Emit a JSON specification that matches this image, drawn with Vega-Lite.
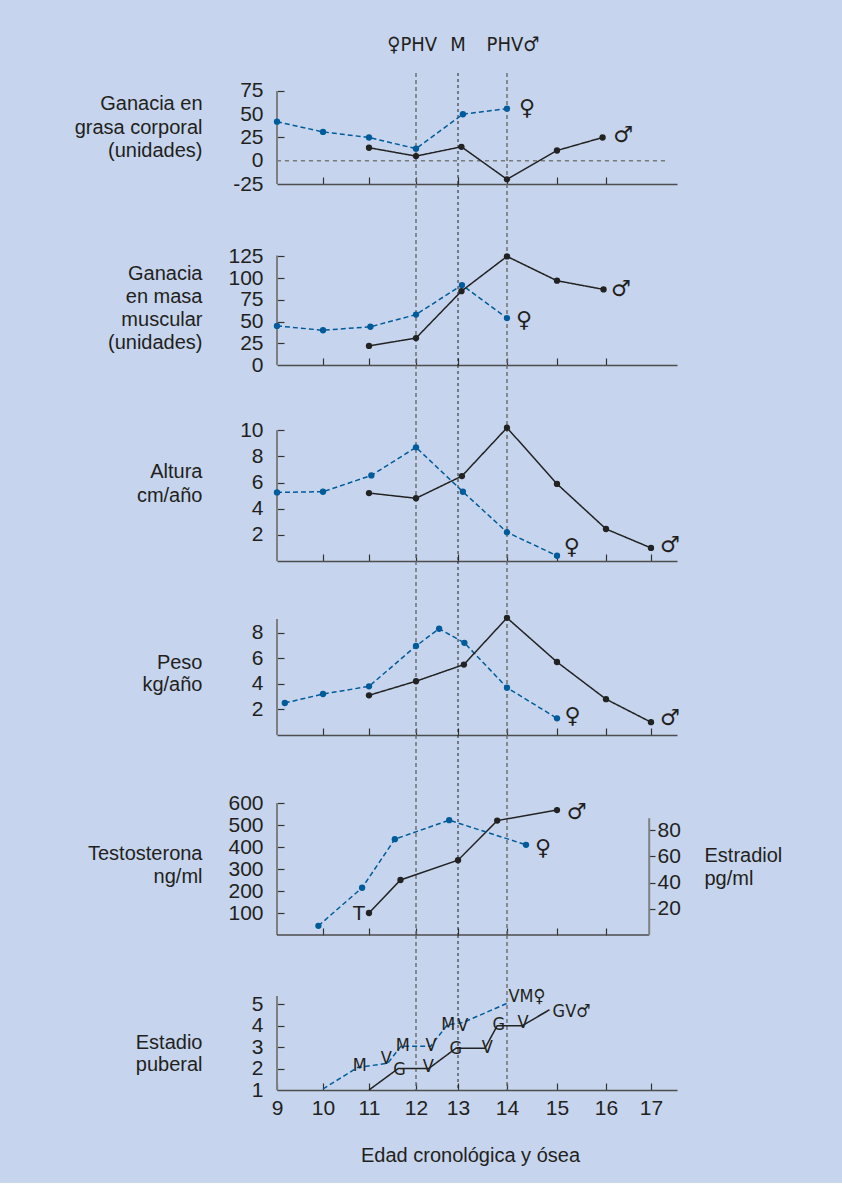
{
  "$schema": "https://vega.github.io/schema/vega-lite/v6.json",
  "background": "#c6d5ed",
  "padding": {"left": 74, "top": 34, "right": 60, "bottom": 18},
  "bounds": "flush",
  "spacing": 0,
  "config": {
    "view": {"stroke": null},
    "font": "Liberation Sans",
    "axis": {
      "labelFont": "Liberation Sans", "labelFontSize": 21, "labelColor": "#231f20",
      "titleFont": "Liberation Sans", "titleFontSize": 20, "titleFontWeight": "normal", "titleColor": "#231f20",
      "labelFlush": false, "labelBound": false, "grid": false, "labelOverlap": false,
      "tickColor": "#333333", "tickWidth": 1.2, "tickCount": 20
    }
  },
  "datasets": {
    "vlin": [{"x": 12}, {"x": 13}, {"x": 14}],
    "yax": [
      {"p": 1, "x": 9, "y": -25, "y2": 75},
      {"p": 2, "x": 9, "y": 0, "y2": 126},
      {"p": 3, "x": 9, "y": 0, "y2": 10},
      {"p": 4, "x": 9, "y": 0, "y2": 9.06},
      {"p": 5, "x": 9, "y": 0, "y2": 600},
      {"p": 6, "x": 9, "y": 1, "y2": 5.39}
    ],
    "estrax": [{"x": 16.96, "y": 0, "y2": 89}],
    "hlin": [{"p": 1, "x": 9, "x2": 17.33, "y": 0}, {"p": 5, "x": 9, "x2": 16.96, "y": 0}],
    "top": [{"x": 11.92, "y": 124.5, "t": "♀PHV"}, {"x": 13, "y": 124.5, "t": "M"}, {"x": 14.12, "y": 124.5, "t": "PHV♂"}],
    "simb": [
      {"p": 1, "x": 14.4, "y": 57, "t": "♀"}, {"p": 1, "x": 16.38, "y": 28, "t": "♂"},
      {"p": 2, "x": 14.34, "y": 52, "t": "♀"}, {"p": 2, "x": 16.33, "y": 87, "t": "♂"},
      {"p": 3, "x": 15.3, "y": 1.1, "t": "♀"}, {"p": 3, "x": 17.4, "y": 1.25, "t": "♂"},
      {"p": 4, "x": 15.32, "y": 1.5, "t": "♀"}, {"p": 4, "x": 17.4, "y": 1.35, "t": "♂"},
      {"p": 5, "x": 15.4, "y": 560, "t": "♂"}, {"p": 5, "x": 14.72, "y": 394, "t": "♀"}
    ],
    "tlab": [{"x": 10.78, "y": 95, "t": "T"}],
    "grasa": [
      {"x": 9, "y": 42, "s": "F"}, {"x": 10, "y": 31, "s": "F"}, {"x": 11, "y": 25, "s": "F"}, {"x": 12, "y": 13, "s": "F"}, {"x": 13.1, "y": 50, "s": "F"}, {"x": 14, "y": 56, "s": "F"},
      {"x": 11, "y": 14, "s": "M"}, {"x": 12, "y": 5, "s": "M"}, {"x": 13.07, "y": 15, "s": "M"}, {"x": 14, "y": -20, "s": "M"}, {"x": 15, "y": 11, "s": "M"}, {"x": 15.93, "y": 25, "s": "M"}
    ],
    "masa": [
      {"x": 9, "y": 45, "s": "F"}, {"x": 10, "y": 40, "s": "F"}, {"x": 11.03, "y": 44, "s": "F"}, {"x": 12, "y": 58, "s": "F"}, {"x": 13.08, "y": 92, "s": "F"}, {"x": 14, "y": 54, "s": "F"},
      {"x": 11, "y": 22, "s": "M"}, {"x": 12, "y": 31, "s": "M"}, {"x": 13.07, "y": 85, "s": "M"}, {"x": 14, "y": 125, "s": "M"}, {"x": 15, "y": 97, "s": "M"}, {"x": 15.95, "y": 87, "s": "M"}
    ],
    "altura": [
      {"x": 9, "y": 5.25, "s": "F"}, {"x": 10, "y": 5.3, "s": "F"}, {"x": 11.05, "y": 6.55, "s": "F"}, {"x": 12, "y": 8.7, "s": "F"}, {"x": 13.1, "y": 5.3, "s": "F"}, {"x": 14, "y": 2.2, "s": "F"}, {"x": 15, "y": 0.4, "s": "F"},
      {"x": 11, "y": 5.2, "s": "M"}, {"x": 12, "y": 4.8, "s": "M"}, {"x": 13.08, "y": 6.5, "s": "M"}, {"x": 14, "y": 10.2, "s": "M"}, {"x": 15, "y": 5.9, "s": "M"}, {"x": 16, "y": 2.45, "s": "M"}, {"x": 17, "y": 1.0, "s": "M"}
    ],
    "peso": [
      {"x": 9.17, "y": 2.5, "s": "F"}, {"x": 10, "y": 3.2, "s": "F"}, {"x": 11, "y": 3.8, "s": "F"}, {"x": 12, "y": 6.95, "s": "F"}, {"x": 12.55, "y": 8.3, "s": "F"}, {"x": 13.13, "y": 7.2, "s": "F"}, {"x": 14, "y": 3.7, "s": "F"}, {"x": 15, "y": 1.3, "s": "F"},
      {"x": 11, "y": 3.1, "s": "M"}, {"x": 12, "y": 4.2, "s": "M"}, {"x": 13.12, "y": 5.5, "s": "M"}, {"x": 14, "y": 9.15, "s": "M"}, {"x": 15, "y": 5.7, "s": "M"}, {"x": 16, "y": 2.8, "s": "M"}, {"x": 17, "y": 1.0, "s": "M"}
    ],
    "testo": [
      {"x": 11, "y": 100}, {"x": 11.67, "y": 250}, {"x": 13, "y": 340}, {"x": 13.8, "y": 520}, {"x": 15, "y": 568}
    ],
    "estra": [
      {"x": 9.9, "y": 7}, {"x": 10.85, "y": 36}, {"x": 11.55, "y": 73}, {"x": 12.79, "y": 87.5}, {"x": 14.38, "y": 68.7}
    ],
    "estadio": [
      {"x": 10, "y": 1.05, "s": "F"}, {"x": 10.75, "y": 2.05, "s": "F"}, {"x": 11.4, "y": 2.25, "s": "F"}, {"x": 11.68, "y": 3.05, "s": "F"}, {"x": 12.35, "y": 3.05, "s": "F"}, {"x": 12.75, "y": 4.05, "s": "F"}, {"x": 13.1, "y": 4.15, "s": "F"}, {"x": 14, "y": 5.05, "s": "F"},
      {"x": 11, "y": 1, "s": "M"}, {"x": 11.62, "y": 2, "s": "M"}, {"x": 12.3, "y": 2, "s": "M"}, {"x": 12.95, "y": 2.95, "s": "M"}, {"x": 13.55, "y": 2.95, "s": "M"}, {"x": 13.8, "y": 4, "s": "M"}, {"x": 14.3, "y": 4, "s": "M"}, {"x": 14.85, "y": 4.75, "s": "M"}
    ],
    "letras": [
      {"x": 10.8, "y": 2.12, "t": "M"}, {"x": 11.37, "y": 2.43, "t": "V"}, {"x": 11.72, "y": 3.06, "t": "M"}, {"x": 12.36, "y": 3.06, "t": "V"}, {"x": 12.77, "y": 4.04, "t": "M"}, {"x": 13.1, "y": 4.0, "t": "V"},
      {"x": 11.65, "y": 1.93, "t": "G"}, {"x": 12.29, "y": 2.06, "t": "V"}, {"x": 12.95, "y": 2.9, "t": "G"}, {"x": 13.6, "y": 2.96, "t": "V"}, {"x": 13.83, "y": 4.04, "t": "G"}, {"x": 14.32, "y": 4.12, "t": "V"}
    ],
    "finales": [{"x": 14.4, "y": 5.36, "t": "VM♀"}, {"x": 15.3, "y": 4.66, "t": "GV♂"}]
  },
  "vconcat": [
    {
      "width": 400, "height": 111,
      "layer": [
        {"data": {"name": "vlin"}, "mark": {"type": "rule"},
         "encoding": {
           "x": {"field": "x", "type": "quantitative",
                 "scale": {"domain": [9, 10, 11, 12, 13, 14, 15, 16, 17, 17.55], "range": [0, 46, 92, 139, 181, 230, 280, 329, 374, 400], "nice": false, "zero": false},
                 "axis": {"values": [10, 11, 12, 13, 14, 15, 16], "tickCount": 20, "labels": false, "title": null, "tickSize": -7, "domainColor": "#4d4d4d", "domainWidth": 1.5}},
           "color": {"condition": {"test": "datum.x == 13", "value": "#1e1e1e"}, "value": "#6a6a6a"},
           "strokeDash": {"condition": {"test": "datum.x == 13", "value": [3, 3]}, "value": [4, 3]},
           "strokeWidth": {"condition": {"test": "datum.x == 13", "value": 1}, "value": 1.4}}},
        {"data": {"name": "yax"}, "transform": [{"filter": "datum.p == 1"}], "mark": {"type": "rule", "color": "#7f7f7f", "strokeWidth": 2},
         "encoding": {
           "x": {"field": "x", "type": "quantitative"},
           "y": {"field": "y", "type": "quantitative", "scale": {"domain": [-25, 94.35], "nice": false, "zero": false},
                 "axis": {"values": [-25, 0, 25, 50, 75], "tickCount": 20, "labelOverlap": false, "labelExpr": "'' + datum.value", "domain": false, "tickSize": -7, "labelPadding": 21,
                          "tickOpacity": {"condition": {"test": "datum.value == 25 || datum.value == 75", "value": 1}, "value": 0},
                          "title": ["Ganacia en", "grasa corporal", "(unidades)"], "titleAngle": 0, "titleAlign": "right", "titleBaseline": "top",
                          "titleX": -75, "titleY": 20.5, "titleLineHeight": 23.5}},
           "y2": {"field": "y2"}}},
        {"data": {"name": "hlin"}, "transform": [{"filter": "datum.p == 1"}], "mark": {"type": "rule", "color": "#7a7a7a", "strokeDash": [4, 4], "strokeWidth": 1.3},
         "encoding": {"x": {"field": "x", "type": "quantitative"}, "x2": {"field": "x2"}, "y": {"field": "y", "type": "quantitative"}}},
        {"data": {"name": "grasa"}, "mark": {"type": "line", "strokeWidth": 1.5},
         "encoding": {
           "x": {"field": "x", "type": "quantitative"}, "y": {"field": "y", "type": "quantitative"},
           "color": {"field": "s", "type": "nominal", "scale": {"domain": ["F", "M"], "range": ["#005b9a", "#222222"]}, "legend": null},
           "strokeDash": {"field": "s", "type": "nominal", "scale": {"domain": ["F", "M"], "range": [[5, 3], [1, 0]]}, "legend": null}}},
        {"data": {"name": "grasa"}, "mark": {"type": "point", "filled": true, "size": 40, "opacity": 1},
         "encoding": {"x": {"field": "x", "type": "quantitative"}, "y": {"field": "y", "type": "quantitative"},
           "color": {"field": "s", "type": "nominal", "legend": null}}},
        {"data": {"name": "simb"}, "transform": [{"filter": "datum.p == 1"}], "mark": {"type": "text", "font": "DejaVu Sans", "fontSize": 22, "color": "#231f20", "baseline": "middle"},
         "encoding": {"x": {"field": "x", "type": "quantitative"}, "y": {"field": "y", "type": "quantitative"}, "text": {"field": "t"}}},
        {"data": {"name": "top"}, "mark": {"type": "text", "font": "DejaVu Sans Condensed", "fontSize": 20, "color": "#231f20", "baseline": "middle"},
         "encoding": {"x": {"field": "x", "type": "quantitative"}, "y": {"field": "y", "type": "quantitative"}, "text": {"field": "t"}}}
      ]
    },
    {
      "width": 400, "height": 181,
      "layer": [
        {"data": {"name": "vlin"}, "mark": {"type": "rule"},
         "encoding": {
           "x": {"field": "x", "type": "quantitative",
                 "scale": {"domain": [9, 10, 11, 12, 13, 14, 15, 16, 17, 17.55], "range": [0, 46, 92, 139, 181, 230, 280, 329, 374, 400], "nice": false, "zero": false},
                 "axis": {"values": [10, 11, 12, 13, 14, 15, 16], "tickCount": 20, "labels": false, "title": null, "tickSize": -7, "domainColor": "#4d4d4d", "domainWidth": 1.5}},
           "color": {"condition": {"test": "datum.x == 13", "value": "#1e1e1e"}, "value": "#6a6a6a"},
           "strokeDash": {"condition": {"test": "datum.x == 13", "value": [3, 3]}, "value": [4, 3]},
           "strokeWidth": {"condition": {"test": "datum.x == 13", "value": 1}, "value": 1.4}}},
        {"data": {"name": "yax"}, "transform": [{"filter": "datum.p == 2"}], "mark": {"type": "rule", "color": "#7f7f7f", "strokeWidth": 2},
         "encoding": {
           "x": {"field": "x", "type": "quantitative"},
           "y": {"field": "y", "type": "quantitative", "scale": {"domain": [0, 208.3], "nice": false, "zero": false},
                 "axis": {"values": [0, 25, 50, 75, 100, 125], "tickCount": 20, "labelOverlap": false, "labelExpr": "'' + datum.value", "domain": false, "tickSize": -7, "labelPadding": 21,
                          "tickOpacity": {"condition": {"test": "datum.value == 0", "value": 0}, "value": 1},
                          "title": ["Ganacia", "en masa", "muscular", "(unidades)"], "titleAngle": 0, "titleAlign": "right", "titleBaseline": "top",
                          "titleX": -75, "titleY": 79.8, "titleLineHeight": 22.8}},
           "y2": {"field": "y2"}}},
        {"data": {"name": "masa"}, "mark": {"type": "line", "strokeWidth": 1.5},
         "encoding": {
           "x": {"field": "x", "type": "quantitative"}, "y": {"field": "y", "type": "quantitative"},
           "color": {"field": "s", "type": "nominal", "scale": {"domain": ["F", "M"], "range": ["#005b9a", "#222222"]}, "legend": null},
           "strokeDash": {"field": "s", "type": "nominal", "scale": {"domain": ["F", "M"], "range": [[5, 3], [1, 0]]}, "legend": null}}},
        {"data": {"name": "masa"}, "mark": {"type": "point", "filled": true, "size": 40, "opacity": 1},
         "encoding": {"x": {"field": "x", "type": "quantitative"}, "y": {"field": "y", "type": "quantitative"},
           "color": {"field": "s", "type": "nominal", "legend": null}}},
        {"data": {"name": "simb"}, "transform": [{"filter": "datum.p == 2"}], "mark": {"type": "text", "font": "DejaVu Sans", "fontSize": 22, "color": "#231f20", "baseline": "middle"},
         "encoding": {"x": {"field": "x", "type": "quantitative"}, "y": {"field": "y", "type": "quantitative"}, "text": {"field": "t"}}}
      ]
    },
    {
      "width": 400, "height": 196,
      "layer": [
        {"data": {"name": "vlin"}, "mark": {"type": "rule"},
         "encoding": {
           "x": {"field": "x", "type": "quantitative",
                 "scale": {"domain": [9, 10, 11, 12, 13, 14, 15, 16, 17, 17.55], "range": [0, 46, 92, 139, 181, 230, 280, 329, 374, 400], "nice": false, "zero": false},
                 "axis": {"values": [10, 11, 12, 13, 14, 15, 16, 17], "tickCount": 20, "labels": false, "title": null, "tickSize": -7, "domainColor": "#4d4d4d", "domainWidth": 1.5}},
           "color": {"condition": {"test": "datum.x == 13", "value": "#1e1e1e"}, "value": "#6a6a6a"},
           "strokeDash": {"condition": {"test": "datum.x == 13", "value": [3, 3]}, "value": [4, 3]},
           "strokeWidth": {"condition": {"test": "datum.x == 13", "value": 1}, "value": 1.4}}},
        {"data": {"name": "yax"}, "transform": [{"filter": "datum.p == 3"}], "mark": {"type": "rule", "color": "#7f7f7f", "strokeWidth": 2},
         "encoding": {
           "x": {"field": "x", "type": "quantitative"},
           "y": {"field": "y", "type": "quantitative", "scale": {"domain": [0, 15.0], "nice": false, "zero": false},
                 "axis": {"values": [2, 4, 6, 8, 10], "tickCount": 20, "labelOverlap": false, "labelExpr": "'' + datum.value", "domain": false, "tickSize": -7, "labelPadding": 21,
                          "title": ["Altura", "cm/año"], "titleAngle": 0, "titleAlign": "right", "titleBaseline": "top",
                          "titleX": -75, "titleY": 96.9, "titleLineHeight": 23.3}},
           "y2": {"field": "y2"}}},
        {"data": {"name": "altura"}, "mark": {"type": "line", "strokeWidth": 1.5},
         "encoding": {
           "x": {"field": "x", "type": "quantitative"}, "y": {"field": "y", "type": "quantitative"},
           "color": {"field": "s", "type": "nominal", "scale": {"domain": ["F", "M"], "range": ["#005b9a", "#222222"]}, "legend": null},
           "strokeDash": {"field": "s", "type": "nominal", "scale": {"domain": ["F", "M"], "range": [[5, 3], [1, 0]]}, "legend": null}}},
        {"data": {"name": "altura"}, "mark": {"type": "point", "filled": true, "size": 40, "opacity": 1},
         "encoding": {"x": {"field": "x", "type": "quantitative"}, "y": {"field": "y", "type": "quantitative"},
           "color": {"field": "s", "type": "nominal", "legend": null}}},
        {"data": {"name": "simb"}, "transform": [{"filter": "datum.p == 3"}], "mark": {"type": "text", "font": "DejaVu Sans", "fontSize": 22, "color": "#231f20", "baseline": "middle"},
         "encoding": {"x": {"field": "x", "type": "quantitative"}, "y": {"field": "y", "type": "quantitative"}, "text": {"field": "t"}}}
      ]
    },
    {
      "width": 400, "height": 174,
      "layer": [
        {"data": {"name": "vlin"}, "mark": {"type": "rule"},
         "encoding": {
           "x": {"field": "x", "type": "quantitative",
                 "scale": {"domain": [9, 10, 11, 12, 13, 14, 15, 16, 17, 17.55], "range": [0, 46, 92, 139, 181, 230, 280, 329, 374, 400], "nice": false, "zero": false},
                 "axis": {"values": [10, 11, 12, 13, 14, 15, 16, 17], "tickCount": 20, "labels": false, "title": null, "tickSize": -7, "domainColor": "#4d4d4d", "domainWidth": 1.5}},
           "color": {"condition": {"test": "datum.x == 13", "value": "#1e1e1e"}, "value": "#6a6a6a"},
           "strokeDash": {"condition": {"test": "datum.x == 13", "value": [3, 3]}, "value": [4, 3]},
           "strokeWidth": {"condition": {"test": "datum.x == 13", "value": 1}, "value": 1.4}}},
        {"data": {"name": "yax"}, "transform": [{"filter": "datum.p == 4"}], "mark": {"type": "rule", "color": "#7f7f7f", "strokeWidth": 2},
         "encoding": {
           "x": {"field": "x", "type": "quantitative"},
           "y": {"field": "y", "type": "quantitative", "scale": {"domain": [0, 13.59], "nice": false, "zero": false},
                 "axis": {"values": [2, 4, 6, 8], "tickCount": 20, "labelOverlap": false, "labelExpr": "'' + datum.value", "domain": false, "tickSize": -7, "labelPadding": 21,
                          "title": ["Peso", "kg/año"], "titleAngle": 0, "titleAlign": "right", "titleBaseline": "top",
                          "titleX": -75, "titleY": 91.2, "titleLineHeight": 22}},
           "y2": {"field": "y2"}}},
        {"data": {"name": "peso"}, "mark": {"type": "line", "strokeWidth": 1.5},
         "encoding": {
           "x": {"field": "x", "type": "quantitative"}, "y": {"field": "y", "type": "quantitative"},
           "color": {"field": "s", "type": "nominal", "scale": {"domain": ["F", "M"], "range": ["#005b9a", "#222222"]}, "legend": null},
           "strokeDash": {"field": "s", "type": "nominal", "scale": {"domain": ["F", "M"], "range": [[5, 3], [1, 0]]}, "legend": null}}},
        {"data": {"name": "peso"}, "mark": {"type": "point", "filled": true, "size": 40, "opacity": 1},
         "encoding": {"x": {"field": "x", "type": "quantitative"}, "y": {"field": "y", "type": "quantitative"},
           "color": {"field": "s", "type": "nominal", "legend": null}}},
        {"data": {"name": "simb"}, "transform": [{"filter": "datum.p == 4"}], "mark": {"type": "text", "font": "DejaVu Sans", "fontSize": 22, "color": "#231f20", "baseline": "middle"},
         "encoding": {"x": {"field": "x", "type": "quantitative"}, "y": {"field": "y", "type": "quantitative"}, "text": {"field": "t"}}}
      ]
    },
    {
      "width": 400, "height": 200,
      "resolve": {"scale": {"y": "independent"}},
      "layer": [
        {
          "layer": [
            {"data": {"name": "vlin"}, "mark": {"type": "rule"},
             "encoding": {
               "x": {"field": "x", "type": "quantitative",
                     "scale": {"domain": [9, 10, 11, 12, 13, 14, 15, 16, 17, 17.55], "range": [0, 46, 92, 139, 181, 230, 280, 329, 374, 400], "nice": false, "zero": false},
                     "axis": {"values": [10, 11, 12, 13, 14, 15, 16], "tickCount": 20, "labels": false, "title": null, "tickSize": -7, "domain": false}},
               "color": {"condition": {"test": "datum.x == 13", "value": "#1e1e1e"}, "value": "#6a6a6a"},
               "strokeDash": {"condition": {"test": "datum.x == 13", "value": [3, 3]}, "value": [4, 3]},
               "strokeWidth": {"condition": {"test": "datum.x == 13", "value": 1}, "value": 1.4}}},
            {"data": {"name": "yax"}, "transform": [{"filter": "datum.p == 5"}], "mark": {"type": "rule", "color": "#7f7f7f", "strokeWidth": 2},
             "encoding": {
               "x": {"field": "x", "type": "quantitative"},
               "y": {"field": "y", "type": "quantitative", "scale": {"domain": [0, 909.1], "nice": false, "zero": false},
                     "axis": {"orient": "left", "values": [100, 200, 300, 400, 500, 600], "tickCount": 20, "labelOverlap": false, "labelExpr": "'' + datum.value", "domain": false, "tickSize": -7, "labelPadding": 21,
                              "title": ["Testosterona", "ng/ml"], "titleAngle": 0, "titleAlign": "right", "titleBaseline": "top",
                              "titleX": -75, "titleY": 108.5, "titleLineHeight": 23.4}},
               "y2": {"field": "y2"}}},
            {"data": {"name": "hlin"}, "transform": [{"filter": "datum.p == 5"}], "mark": {"type": "rule", "color": "#4d4d4d", "strokeWidth": 1.5},
             "encoding": {"x": {"field": "x", "type": "quantitative"}, "x2": {"field": "x2"}, "y": {"field": "y", "type": "quantitative"}}},
            {"data": {"name": "testo"}, "mark": {"type": "line", "strokeWidth": 1.5, "color": "#222222"},
             "encoding": {"x": {"field": "x", "type": "quantitative"}, "y": {"field": "y", "type": "quantitative"}}},
            {"data": {"name": "testo"}, "mark": {"type": "point", "filled": true, "size": 40, "opacity": 1, "color": "#222222"},
             "encoding": {"x": {"field": "x", "type": "quantitative"}, "y": {"field": "y", "type": "quantitative"}}},
            {"data": {"name": "simb"}, "transform": [{"filter": "datum.p == 5"}], "mark": {"type": "text", "font": "DejaVu Sans", "fontSize": 22, "color": "#231f20", "baseline": "middle"},
             "encoding": {"x": {"field": "x", "type": "quantitative"}, "y": {"field": "y", "type": "quantitative"}, "text": {"field": "t"}}},
            {"data": {"name": "tlab"}, "mark": {"type": "text", "fontSize": 21, "color": "#231f20", "baseline": "middle"},
             "encoding": {"x": {"field": "x", "type": "quantitative"}, "y": {"field": "y", "type": "quantitative"}, "text": {"field": "t"}}}
          ]
        },
        {
          "layer": [
            {"data": {"name": "estrax"}, "mark": {"type": "rule", "color": "#7f7f7f", "strokeWidth": 2},
             "encoding": {
               "x": {"field": "x", "type": "quantitative"},
               "y": {"field": "y", "type": "quantitative", "scale": {"domain": [0, 152.4], "nice": false, "zero": false},
                     "axis": {"orient": "right", "offset": -28, "values": [20, 40, 60, 80], "tickCount": 20, "labelOverlap": false, "labelExpr": "'' + datum.value", "domain": false, "tickSize": 6, "labelPadding": 2,
                              "title": ["Estradiol", "pg/ml"], "titleAngle": 0, "titleAlign": "left", "titleBaseline": "top",
                              "titleX": 55, "titleY": 110, "titleLineHeight": 23.5}},
               "y2": {"field": "y2"}}},
            {"data": {"name": "estra"}, "mark": {"type": "line", "strokeWidth": 1.5, "color": "#005b9a", "strokeDash": [5, 3]},
             "encoding": {"x": {"field": "x", "type": "quantitative"}, "y": {"field": "y", "type": "quantitative"}}},
            {"data": {"name": "estra"}, "mark": {"type": "point", "filled": true, "size": 40, "opacity": 1, "color": "#005b9a"},
             "encoding": {"x": {"field": "x", "type": "quantitative"}, "y": {"field": "y", "type": "quantitative"}}}
          ]
        }
      ]
    },
    {
      "width": 400, "height": 155,
      "layer": [
        {"data": {"name": "vlin"}, "mark": {"type": "rule"},
         "encoding": {
           "x": {"field": "x", "type": "quantitative",
                 "scale": {"domain": [9, 10, 11, 12, 13, 14, 15, 16, 17, 17.55], "range": [0, 46, 92, 139, 181, 230, 280, 329, 374, 400], "nice": false, "zero": false},
                 "axis": {"values": [9, 10, 11, 12, 13, 14, 15, 16, 17], "tickCount": 20, "labels": true, "labelOverlap": false, "labelExpr": "'' + datum.value", "labelPadding": 14, "tickSize": -7, "domainColor": "#4d4d4d", "domainWidth": 1.5,
                          "title": "Edad cronológica y ósea", "titleX": 193, "titleY": 65, "titleBaseline": "middle", "titleAlign": "center"}},
           "color": {"condition": {"test": "datum.x == 13", "value": "#1e1e1e"}, "value": "#6a6a6a"},
           "strokeDash": {"condition": {"test": "datum.x == 13", "value": [3, 3]}, "value": [4, 3]},
           "strokeWidth": {"condition": {"test": "datum.x == 13", "value": 1}, "value": 1.4}}},
        {"data": {"name": "yax"}, "transform": [{"filter": "datum.p == 6"}], "mark": {"type": "rule", "color": "#7f7f7f", "strokeWidth": 2},
         "encoding": {
           "x": {"field": "x", "type": "quantitative"},
           "y": {"field": "y", "type": "quantitative", "scale": {"domain": [1, 8.243], "nice": false, "zero": false},
                 "axis": {"values": [1, 2, 3, 4, 5], "tickCount": 20, "labelOverlap": false, "labelExpr": "'' + datum.value", "domain": false, "tickSize": -7, "labelPadding": 21,
                          "tickOpacity": {"condition": {"test": "datum.value == 1", "value": 0}, "value": 1},
                          "title": ["Estadio", "puberal"], "titleAngle": 0, "titleAlign": "right", "titleBaseline": "top",
                          "titleX": -75, "titleY": 97.2, "titleLineHeight": 22}},
           "y2": {"field": "y2"}}},
        {"data": {"name": "estadio"}, "mark": {"type": "line", "strokeWidth": 1.5},
         "encoding": {
           "x": {"field": "x", "type": "quantitative"}, "y": {"field": "y", "type": "quantitative"},
           "color": {"field": "s", "type": "nominal", "scale": {"domain": ["F", "M"], "range": ["#005b9a", "#222222"]}, "legend": null},
           "strokeDash": {"field": "s", "type": "nominal", "scale": {"domain": ["F", "M"], "range": [[5, 3], [1, 0]]}, "legend": null}}},
        {"data": {"name": "letras"}, "mark": {"type": "text", "font": "Liberation Sans Narrow, DejaVu Sans Condensed, Liberation Sans", "fontSize": 18, "color": "#231f20", "baseline": "middle"},
         "encoding": {"x": {"field": "x", "type": "quantitative"}, "y": {"field": "y", "type": "quantitative"}, "text": {"field": "t"}}},
        {"data": {"name": "finales"}, "mark": {"type": "text", "font": "DejaVu Sans Condensed", "fontSize": 18, "color": "#231f20", "baseline": "middle"},
         "encoding": {"x": {"field": "x", "type": "quantitative"}, "y": {"field": "y", "type": "quantitative"}, "text": {"field": "t"}}}
      ]
    }
  ]
}
